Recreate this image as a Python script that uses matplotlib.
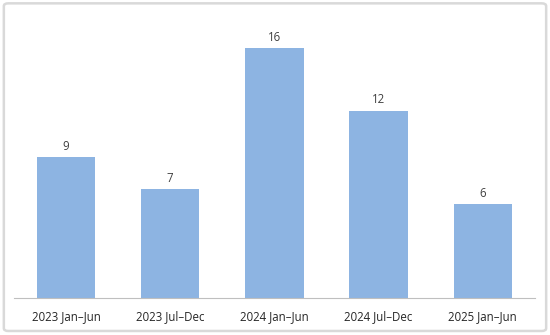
import matplotlib.pyplot as plt
from matplotlib.patches import FancyBboxPatch

periods = ["2023 Jan\u2013Jun", "2023 Jul\u2013Dec", "2024 Jan\u2013Jun", "2024 Jul\u2013Dec", "2025 Jan\u2013Jun"]
counts = [9, 7, 16, 12, 6]

plt.rcParams['font.family'] = ['Open Sans', 'DejaVu Sans']

fig = plt.figure(figsize=(5.5, 3.35), dpi=100)
# light grey frame around the chart
fig.patches.append(FancyBboxPatch((0.007, 0.012), 0.986, 0.978, boxstyle="round,pad=0,rounding_size=0.008",
                                  transform=fig.transFigure, fill=False, edgecolor="#D9D9D9", linewidth=1.8))

ax = fig.add_axes([0.0255, 0.1104, 0.947, 0.839])
x = range(len(periods))
bars = ax.bar(x, counts, width=0.56, color="#8DB4E2")
ax.bar_label(bars, labels=[str(c) for c in counts], padding=3, fontsize=8.3, color="#404040")

ax.set_xlim(-0.5, 4.5)
ax.set_ylim(0, 18)
ax.set_xticks(list(x))
ax.set_xticklabels(periods, fontsize=8.3, color="#262626")
ax.tick_params(axis="x", length=0, pad=9)
ax.set_yticks([])
for s in ["top", "right", "left"]:
    ax.spines[s].set_visible(False)
ax.spines["bottom"].set_color("#BFBFBF")

fig.savefig("out.png", dpi=100)
